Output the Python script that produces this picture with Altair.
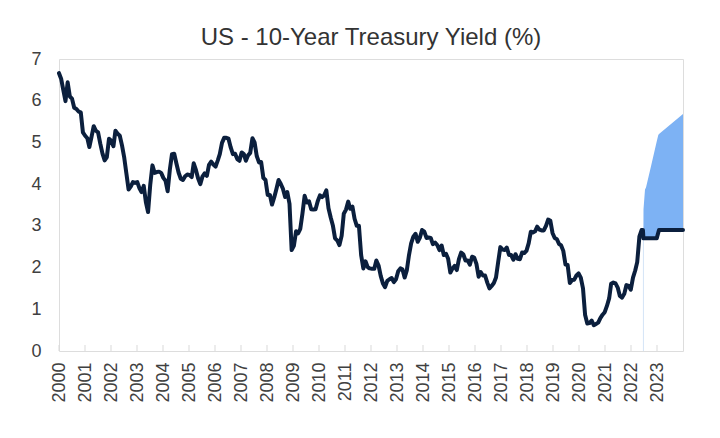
import altair as alt
import pandas as pd

# ---- Monthly US 10-year Treasury yield (%), Jan 2000 .. May 2022 ----
y2000 = [6.66, 6.52, 6.26, 5.99, 6.44, 6.10, 6.05, 5.83, 5.80, 5.74, 5.72, 5.24]
y2001 = [5.16, 5.10, 4.89, 5.14, 5.39, 5.28, 5.24, 4.97, 4.73, 4.57, 4.65, 5.09]
y2002 = [5.04, 4.91, 5.28, 5.21, 5.16, 4.93, 4.65, 4.26, 3.87, 3.94, 4.05, 4.03]
y2003 = [4.05, 3.90, 3.81, 3.96, 3.57, 3.33, 3.98, 4.45, 4.27, 4.29, 4.30, 4.27]
y2004 = [4.15, 4.08, 3.83, 4.35, 4.72, 4.73, 4.50, 4.28, 4.13, 4.10, 4.19, 4.23]
y2005 = [4.22, 4.17, 4.50, 4.34, 4.14, 4.00, 4.18, 4.26, 4.20, 4.46, 4.54, 4.47]
y2006 = [4.42, 4.57, 4.72, 4.99, 5.11, 5.11, 5.09, 4.88, 4.72, 4.73, 4.60, 4.56]
y2007 = [4.76, 4.72, 4.56, 4.69, 4.75, 5.10, 5.00, 4.67, 4.52, 4.53, 4.15, 4.10]
y2008 = [3.74, 3.74, 3.51, 3.68, 3.88, 4.10, 4.01, 3.89, 3.69, 3.81, 3.53, 2.42]
y2009 = [2.52, 2.87, 2.82, 2.93, 3.29, 3.72, 3.56, 3.59, 3.40, 3.39, 3.40, 3.59]
y2010 = [3.73, 3.69, 3.73, 3.85, 3.42, 3.20, 3.01, 2.70, 2.65, 2.54, 2.76, 3.29]
y2011 = [3.39, 3.58, 3.41, 3.46, 3.17, 3.00, 3.00, 2.30, 1.98, 2.15, 2.01, 1.98]
y2012 = [1.97, 1.97, 2.17, 2.05, 1.80, 1.62, 1.53, 1.68, 1.72, 1.75, 1.65, 1.72]
y2013 = [1.91, 1.98, 1.96, 1.76, 1.93, 2.30, 2.58, 2.74, 2.81, 2.62, 2.72, 2.90]
y2014 = [2.86, 2.71, 2.72, 2.71, 2.56, 2.60, 2.54, 2.42, 2.53, 2.30, 2.33, 2.21]
y2015 = [1.88, 1.98, 2.04, 1.94, 2.20, 2.36, 2.32, 2.17, 2.17, 2.07, 2.26, 2.24]
y2016 = [2.09, 1.78, 1.89, 1.81, 1.81, 1.64, 1.50, 1.56, 1.63, 1.76, 2.14, 2.49]
y2017 = [2.43, 2.42, 2.48, 2.30, 2.30, 2.19, 2.32, 2.21, 2.20, 2.36, 2.35, 2.40]
y2018 = [2.58, 2.86, 2.84, 2.87, 2.98, 2.91, 2.89, 2.89, 3.00, 3.15, 3.12, 2.83]
y2019 = [2.71, 2.68, 2.57, 2.53, 2.40, 2.07, 2.06, 1.63, 1.70, 1.71, 1.81, 1.86]
y2020 = [1.76, 1.50, 0.87, 0.66, 0.67, 0.73, 0.62, 0.65, 0.68, 0.79, 0.87, 0.93]
y2021 = [1.08, 1.26, 1.61, 1.64, 1.62, 1.52, 1.32, 1.28, 1.37, 1.58, 1.56, 1.47]
y2022 = [1.76, 1.93, 2.13, 2.75, 2.90]

hist_values = (y2000 + y2001 + y2002 + y2003 + y2004 + y2005 + y2006 + y2007
               + y2008 + y2009 + y2010 + y2011 + y2012 + y2013 + y2014 + y2015
               + y2016 + y2017 + y2018 + y2019 + y2020 + y2021 + y2022)

# ---- Forecast (base line and upper range) ----
fc_line_dates = ["2022-05-20", "2022-05-27", "2022-11-29", "2022-12-31", "2023-12-02"]
fc_line_values = [2.9, 2.7, 2.7, 2.9, 2.9]

band_dates = ["2022-05-20", "2022-05-27", "2022-05-28", "2022-06-18", "2022-07-02",
              "2022-09-06", "2022-11-29", "2022-12-21", "2022-12-31", "2023-12-02"]
band_lower = [2.9, 2.7, 2.7, 2.7, 2.7, 2.7, 2.7, 2.85, 2.9, 2.9]
band_upper = [2.9, 2.9, 3.4, 3.87, 3.92, 4.4, 5.02, 5.18, 5.2, 5.68]

forecast_start = "2022-05-27"
forecast_start_value = 2.7

# ---- Axis: Excel-style weekly category axis (one tick every 52 weeks) ----
years = list(range(2000, 2024))
y_ticks = [0, 1, 2, 3, 4, 5, 6, 7]
title_text = "US - 10-Year Treasury Yield (%)"

ORIGIN = pd.Timestamp("2000-01-01")


def weeks(dates):
    return [(pd.Timestamp(d) - ORIGIN).days / 7.0 for d in dates]


hist_dates = pd.date_range("2000-01-01", periods=len(hist_values), freq="MS")

line_df = pd.DataFrame({
    "wk": weeks(hist_dates) + weeks(fc_line_dates),
    "v": hist_values + fc_line_values,
})
band_df = pd.DataFrame({"wk": weeks(band_dates), "lo": band_lower, "hi": band_upper})
tick_df = pd.DataFrame({"wk": [(yr - 2000) * 52 for yr in years]})
rule_df = pd.DataFrame({"wk": weeks([forecast_start]), "v": [forecast_start_value]})

FONT = "Liberation Sans"
NAVY = "#0b1f3d"
BAND = "#7db2f4"
W, H = 624, 292

xscale = alt.Scale(domain=[0, 52 * 24], nice=False, zero=False)
yscale = alt.Scale(domain=[0, 7], nice=False)

x_axis = alt.Axis(
    values=[(yr - 2000) * 52 for yr in years],
    labelExpr="2000 + round(datum.value / 52)",
    labelAngle=270,
    labelFontSize=18,
    labelFont=FONT,
    labelColor="#404040",
    labelPadding=11,
    labelOverlap=False,
    labelBound=False,
    labelFlush=False,
    ticks=False,
    domain=False,
    grid=False,
    title=None,
)
y_axis = alt.Axis(
    values=y_ticks,
    labelFontSize=18,
    labelFont=FONT,
    labelColor="#404040",
    labelPadding=18,
    labelOverlap=False,
    labelFlush=False,
    ticks=False,
    domain=False,
    grid=False,
    title=None,
)


def X():
    return alt.X("wk:Q", scale=xscale, axis=x_axis)


band = alt.Chart(band_df).mark_area(color=BAND, opacity=1, interpolate="linear").encode(
    x=X(),
    y=alt.Y("hi:Q", scale=yscale, axis=y_axis),
    y2="lo:Q",
)

start_rule = alt.Chart(rule_df).mark_rule(color="#d4e4f7", strokeWidth=1).encode(
    x=X(),
    y=alt.Y("v:Q", scale=yscale, axis=y_axis),
    y2=alt.datum(0),
)

ticks = alt.Chart(tick_df).mark_rule(color="#d9d9d9", strokeWidth=1).encode(
    x=X(),
    y=alt.value(H),
    y2=alt.value(H - 6),
)

line = alt.Chart(line_df).mark_line(
    color=NAVY, strokeWidth=4, strokeJoin="round", strokeCap="round"
).encode(
    x=X(),
    y=alt.Y("v:Q", scale=yscale, axis=y_axis),
    order="wk:Q",
)

chart = alt.layer(band, start_rule, ticks, line).properties(
    width=W,
    height=H,
    title=alt.TitleParams(
        title_text,
        font=FONT,
        fontSize=24,
        fontWeight="normal",
        color="#333333",
        anchor="middle",
        offset=0,
    ),
    autosize=alt.AutoSizeParams(type="none"),
    padding={"left": 51, "top": 51, "right": 29, "bottom": 70},
).configure_view(
    stroke="#d9d9d9", strokeWidth=1
).configure(background="white")

chart.save("out.html", embed_options={"renderer": "svg", "actions": False})
